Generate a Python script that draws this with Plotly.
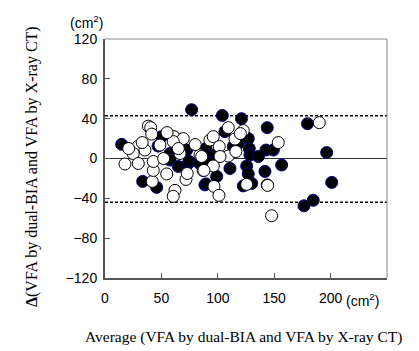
import plotly.graph_objects as go

# Filled circles (series A)
filled_x = [14.8, 76.8, 50.2, 47.0, 72.4, 57.6, 73.8, 57.6, 89.5, 104.0, 121.0, 143.8, 179.5,
            106.3, 127.0, 113.7, 127.9, 142.7, 149.2, 128.5, 96.0, 110.8, 125.6, 141.8, 156.6,
            196.5, 201.0, 176.4, 184.6, 127.0, 122.6, 130.0, 88.6, 99.0, 33.4, 45.8, 74.7, 89.5,
            65.0, 84.0, 92.0, 118.0, 136.0]
filled_y = [14.2, 49.0, 22.0, 12.5, 8.5, 5.0, -5.0, -1.5, 10.0, 43.2, 40.0, 31.0, 35.0,
            27.0, 20.0, 12.0, 10.0, 8.5, 8.5, 3.5, 3.5, -10.0, -7.5, -13.0, -6.5,
            6.0, -24.0, -47.5, -42.0, -15.5, -27.5, -25.0, -26.5, -18.0, -23.0, -29.0, -3.0, -25.5,
            -8.0, -5.0, -4.0, 15.0, 2.0]

# Open circles (series B)
open_x = [38.4, 40.5, 41.4, 61.0, 69.4, 60.5, 48.7, 29.5, 35.4, 25.0, 66.5, 84.2, 93.0, 17.7,
          29.5, 109.3, 122.6, 115.2, 96.0, 101.3, 153.6, 109.3, 102.0, 85.7, 96.0, 190.0,
          143.8, 147.7, 125.6, 144.2, 96.6, 101.0, 87.0, 41.9, 42.8, 54.7, 71.8, 72.9, 62.0,
          60.5, 87.7, 42.8, 21.0, 52.0, 65.0, 80.0, 116.0, 120.0, 55.0, 33.0]
open_y = [32.5, 31.0, 24.5, 22.0, 20.0, 17.0, 13.5, 12.5, 8.5, 5.0, 5.0, 3.5, 18.5, -5.5,
          -5.0, 31.0, 28.0, 19.5, 22.0, 12.0, 16.0, 2.5, 2.0, 2.0, -7.5, 36.0,
          -26.5, -57.5, -26.0, -27.0, -28.0, -37.0, -12.0, -23.0, -12.0, -15.5, -21.0, -15.0, -32.0,
          -38.0, -12.0, -3.0, 10.0, 0.0, 10.0, 14.0, 7.0, 25.0, 26.0, 16.0]

mean_diff = 0
upper_loa = 43
lower_loa = -44

x_ticks = [0, 50, 100, 150, 200]
y_ticks = [-120, -80, -40, 0, 40, 80, 120]

fig = go.Figure()

for yv, dash, col in [(upper_loa, "3px,2px", "black"), (lower_loa, "3px,2px", "black"), (mean_diff, "solid", "#333333")]:
    fig.add_shape(type="line", xref="paper", x0=0, x1=1, yref="y", y0=yv, y1=yv,
                  line=dict(color=col, width=1.5 if dash != "solid" else 1.2, dash=dash), layer="below")

fig.add_trace(go.Scatter(x=filled_x, y=filled_y, mode="markers",
                         marker=dict(size=12, color="black", line=dict(color="#000080", width=1)),
                         showlegend=False))
fig.add_trace(go.Scatter(x=open_x, y=open_y, mode="markers",
                         marker=dict(size=12, color="white", line=dict(color="black", width=1)),
                         showlegend=False))

# page body has an 8px default margin, so the figure is 8px smaller and shifted
fig.update_layout(
    width=411, height=343,
    margin=dict(l=97, r=32, t=31, b=73),
    paper_bgcolor="white", plot_bgcolor="white",
    font=dict(family="Liberation Sans, Arial", size=14, color="black"),
    xaxis=dict(range=[0, 250], tickvals=x_ticks, ticks="inside", ticklen=5, tickcolor="#555555",
               showgrid=False, zeroline=False, showline=True, linecolor="#555555", linewidth=2,
               mirror=False, tickfont=dict(size=14), ticklabelstandoff=6),
    yaxis=dict(range=[-120, 120], tickvals=y_ticks, ticks="inside", ticklen=5, tickcolor="#555555",
               showgrid=False, zeroline=False, showline=True, linecolor="#555555", linewidth=2,
               tickfont=dict(size=14), ticklabelstandoff=3),
)

# thin gray frame on top and right
fig.add_shape(type="line", xref="paper", yref="paper", x0=0, x1=1, y0=1, y1=1,
              line=dict(color="#888888", width=1))
fig.add_shape(type="line", xref="paper", yref="paper", x0=1, x1=1, y0=0, y1=1,
              line=dict(color="#888888", width=1))

fig.add_annotation(text="(cm<sup>2</sup>)", xref="paper", yref="paper", x=-0.067, y=1.071,
                   xanchor="center", yanchor="middle", showarrow=False, font=dict(size=14))
fig.add_annotation(text="(cm<sup>2</sup>)", xref="x", yref="paper", x=228, y=-0.092,
                   xanchor="center", yanchor="middle", showarrow=False, font=dict(size=14))
fig.add_annotation(text="<b>Δ</b>(VFA by dual-BIA and VFA by X-ray CT)", xref="paper", yref="paper",
                   x=-0.2606, y=0.4665, textangle=-90, xanchor="center", yanchor="middle",
                   showarrow=False,
                   font=dict(family="Liberation Serif", size=16))
fig.add_annotation(text="Average (VFA by dual-BIA and VFA by X-ray CT)", xref="paper", yref="paper",
                   x=0.49, y=-0.2469, xanchor="center", yanchor="middle", showarrow=False,
                   font=dict(family="Liberation Serif", size=15.5))

fig.write_html("out.html")
